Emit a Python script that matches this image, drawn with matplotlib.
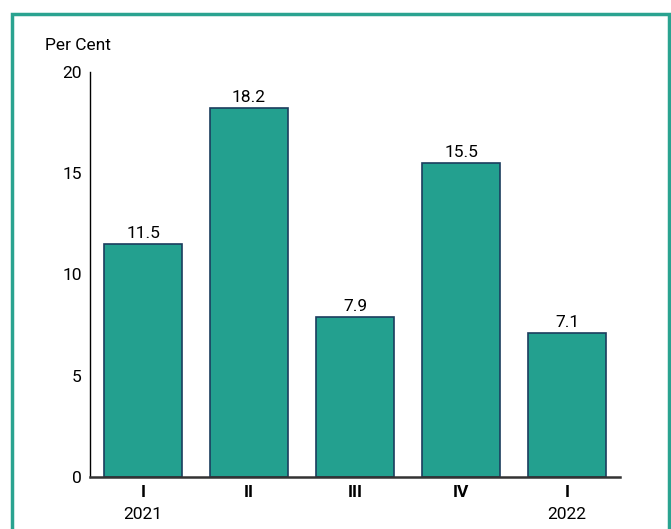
import matplotlib.pyplot as plt
from matplotlib.patches import Rectangle

quarters = ['I', 'II', 'III', 'IV', 'I']
years = ['2021', '', '', '', '2022']
growth = [11.5, 18.2, 7.9, 15.5, 7.1]

plt.rcParams['font.family'] = ['Roboto', 'DejaVu Sans']

bar_color = '#23a08f'
edge_color = '#1b3d5e'
frame_color = '#2aa390'
fs = 12.5

fig = plt.figure(figsize=(6.71, 5.29), dpi=100)
ax = fig.add_axes([90 / 671, 1 - 477 / 529, 530 / 671, 405 / 529])

x = range(len(growth))
bars = ax.bar(x, growth, width=0.73, color=bar_color, edgecolor=edge_color, linewidth=1.2)
for xi, v in zip(x, growth):
    ax.text(xi, v + 0.15, f'{v:.1f}', ha='center', va='bottom', fontsize=fs)

ax.set_xlim(-0.5, 4.5)
ax.set_ylim(0, 20)
ax.set_yticks([0, 5, 10, 15, 20])
ax.tick_params(axis='y', length=0, labelsize=fs, pad=6)
ax.tick_params(axis='x', length=0, pad=6)
ax.set_xticks(list(x))
ax.set_xticklabels(quarters, fontsize=fs, fontweight='bold')
for xi, yr in zip(x, years):
    if yr:
        ax.text(xi, -0.092, yr, transform=ax.get_xaxis_transform(), ha='center', va='center', fontsize=fs)

for side in ['top', 'right']:
    ax.spines[side].set_visible(False)
ax.spines['left'].set_linewidth(1.0)
ax.spines['bottom'].set_linewidth(1.8)
ax.spines['bottom'].set_color('#333333')

fig.text(45 / 671, 1 - 46 / 529, 'Per Cent', ha='left', va='center', fontsize=fs)

# teal frame around the panel (bottom runs off the canvas)
fig.patches.append(Rectangle((12 / 671, -0.05), 657 / 671, 1.05 - 14 / 529,
                             transform=fig.transFigure, fill=False,
                             edgecolor=frame_color, linewidth=2.5))

fig.savefig('out.png', dpi=100)
